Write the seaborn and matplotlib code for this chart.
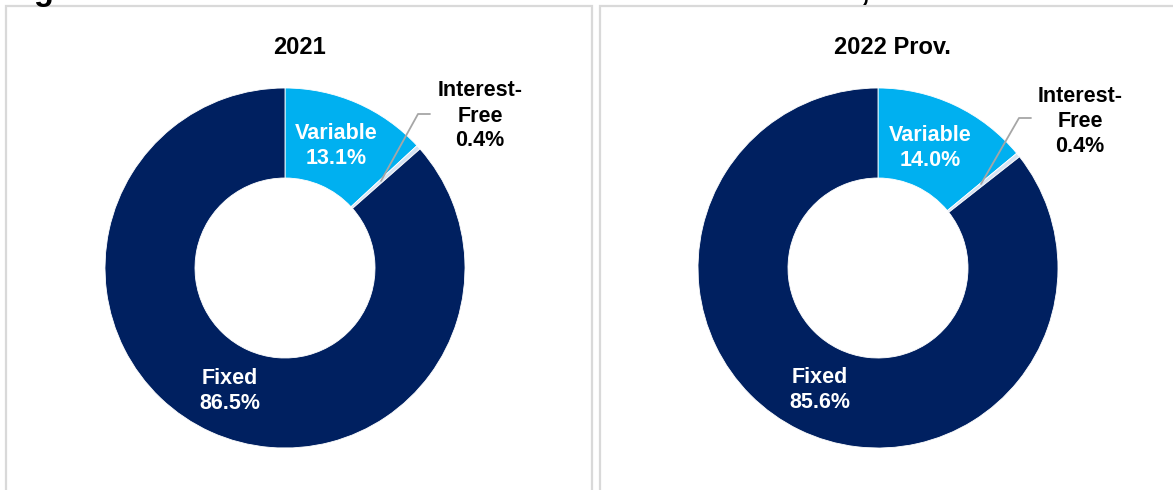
import matplotlib
matplotlib.use("Agg")
import matplotlib.pyplot as plt
from matplotlib.patches import Rectangle
import seaborn as sns

sns.set_theme(style="white")
plt.rcParams["font.family"] = ["Liberation Sans", "DejaVu Sans"]

# Interest rate structure of external debt stock (% of total)
categories = ["Variable", "Interest-Free", "Fixed"]
years = ["2021", "2022 Prov."]
share_2021 = [13.1, 0.4, 86.5]
share_2022 = [14.0, 0.4, 85.6]
colors = ["#00B0F0", "#D6E3F3", "#002060"]

W, H = 1173, 490
fig = plt.figure(figsize=(W / 100, H / 100), dpi=100)
fig.patch.set_facecolor("white")

# Figure heading, sitting just above the panel frames
fig.text(5 / W, 1 - 0.4 / H,
         "Figure 5: Interest Rate Structure of External Debt Stock, % of Total",
         ha="left", va="baseline", fontsize=23.5, fontweight="bold", color="black")

# Panel frames
for x0, x1 in [(6, 592), (600, 1190)]:
    fig.patches.append(Rectangle((x0 / W, -0.1), (x1 - x0) / W, 1 - 6 / H + 0.1,
                                 transform=fig.transFigure, fill=False,
                                 edgecolor="#D9D9D9", lw=1.6, zorder=0))

R = 180
panels = [
    dict(title=years[0], vals=share_2021, cx=285, cy=268, tx=299,
         var_pos=(336, 146), fix_pos=(230, 391), if_pos=(480, 116),
         leader=[(381, 181), (418, 114), (430, 114)]),
    dict(title=years[1], vals=share_2022, cx=878, cy=268, tx=892,
         var_pos=(930, 148), fix_pos=(820, 390), if_pos=(1080, 121),
         leader=[(981, 184), (1019, 118), (1031, 118)]),
]

for p in panels:
    cx, cy = p["cx"], p["cy"]
    ax = fig.add_axes([(cx - R) / W, 1 - (cy + R) / H, 2 * R / W, 2 * R / H])
    ax.pie(p["vals"], colors=colors, startangle=90, counterclock=False,
           radius=1, wedgeprops=dict(width=0.5, edgecolor="white", linewidth=0.6))
    ax.set_xlim(-1, 1)
    ax.set_ylim(-1, 1)
    ax.set_aspect("equal")
    ax.axis("off")

    def to_data(px, py):
        return (px - cx) / R, (cy - py) / R

    v, i_f, f = p["vals"]
    label_kw = dict(ha="center", va="center", fontsize=15.5, fontweight="bold",
                    linespacing=1.25, clip_on=False)
    x, y = to_data(*p["var_pos"])
    ax.text(x, y, f"{categories[0]}\n{v:.1f}%", color="white", **label_kw)
    x, y = to_data(*p["fix_pos"])
    ax.text(x, y, f"{categories[2]}\n{f:.1f}%", color="white", **label_kw)
    x, y = to_data(*p["if_pos"])
    ax.text(x, y, f"Interest-\nFree\n{i_f:.1f}%", color="black", **label_kw)
    pts = [to_data(*q) for q in p["leader"]]
    ax.plot([q[0] for q in pts], [q[1] for q in pts], color="#A6A6A6",
            lw=1.3, clip_on=False)

    fig.text(p["tx"] / W, 1 - 47 / H, p["title"], ha="center", va="center",
             fontsize=17, fontweight="bold", color="black")

fig.savefig("out.png", dpi=100, facecolor="white")
